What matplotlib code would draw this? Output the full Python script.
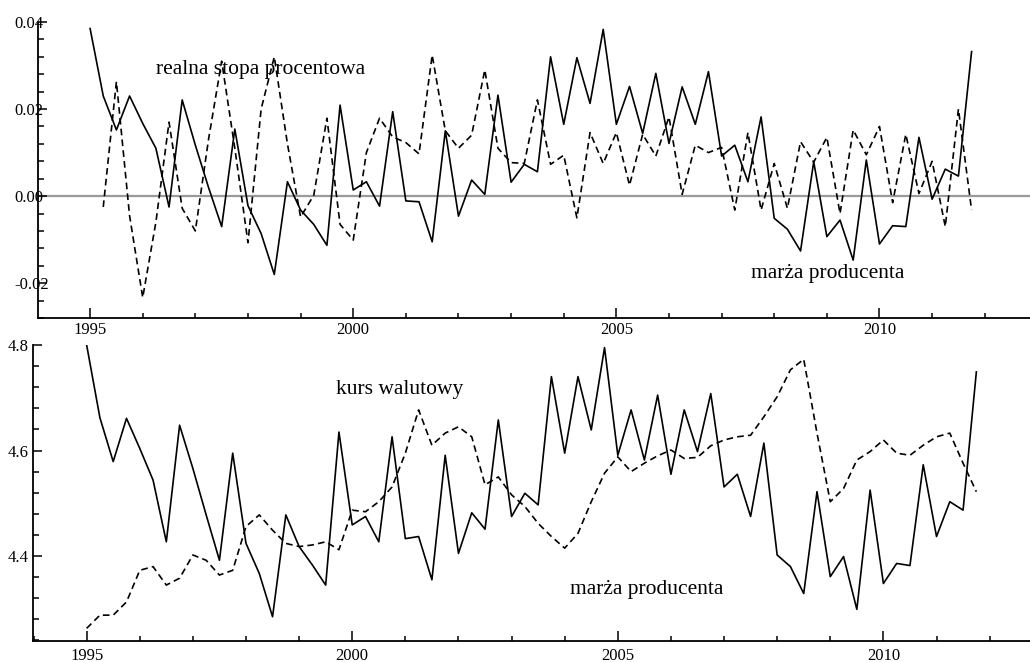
import numpy as np
import matplotlib
matplotlib.use('Agg')
import matplotlib.pyplot as plt
from matplotlib.ticker import MultipleLocator, FixedLocator, FixedFormatter

plt.rcParams['font.family'] = ['Liberation Serif', 'DejaVu Serif']

# quarterly data 1995Q1 - 2011Q4
start_year = 1995
n_quarters = 68

# top panel
marza_top = [0.0385, 0.023, 0.0152, 0.023, 0.0167, 0.011, -0.0025, 0.0221, 0.0117, 0.002,
             -0.007, 0.0154, -0.0022, -0.0086, -0.018, 0.0033, -0.0032, -0.0065, -0.0113, 0.0209,
             0.0014, 0.0033, -0.0023, 0.0194, -0.0011, -0.0013, -0.0105, 0.015, -0.0046, 0.0037,
             0.0004, 0.0232, 0.0032, 0.0073, 0.0056, 0.032, 0.0165, 0.0318, 0.0213, 0.0383,
             0.0165, 0.0252, 0.0144, 0.0282, 0.0121, 0.0251, 0.0165, 0.0286, 0.0092, 0.0117,
             0.0033, 0.0182, -0.0051, -0.0076, -0.0126, 0.0079, -0.0093, -0.0055, -0.0147, 0.0083,
             -0.011, -0.0068, -0.007, 0.0135, -0.0007, 0.0062, 0.0046, 0.0332]
stopa = [np.nan, -0.0025, 0.0263, -0.0045, -0.0233, -0.006, 0.017, -0.0028, -0.008, 0.013,
         0.031, 0.011, -0.0107, 0.020, 0.032, 0.012, -0.0048, 0.0002, 0.0179, -0.0065,
         -0.0101, 0.010, 0.0179, 0.0136, 0.0123, 0.0097, 0.0324, 0.015, 0.011, 0.014,
         0.029, 0.011, 0.0077, 0.0075, 0.0221, 0.0073, 0.0094, -0.005, 0.0146, 0.0075,
         0.0146, 0.0025, 0.0142, 0.0092, 0.0182, 0.0004, 0.0117, 0.010, 0.0112, -0.0032,
         0.0146, -0.0032, 0.0075, -0.0028, 0.0125, 0.0078, 0.0135, -0.004, 0.0152, 0.0095,
         0.016, -0.0015, 0.0142, 0.0006, 0.008, -0.007, 0.020, -0.0032]

# bottom panel
marza_bottom = [4.80, 4.662, 4.579, 4.661, 4.604, 4.544, 4.427, 4.648, 4.566, 4.478,
                4.392, 4.595, 4.424, 4.367, 4.285, 4.478, 4.418, 4.383, 4.345, 4.635,
                4.459, 4.475, 4.427, 4.626, 4.433, 4.437, 4.355, 4.591, 4.405, 4.482,
                4.451, 4.658, 4.475, 4.519, 4.497, 4.740, 4.595, 4.740, 4.639, 4.795,
                4.591, 4.677, 4.582, 4.705, 4.555, 4.677, 4.598, 4.708, 4.531, 4.555,
                4.475, 4.614, 4.402, 4.380, 4.329, 4.522, 4.361, 4.399, 4.299, 4.525,
                4.348, 4.386, 4.382, 4.573, 4.437, 4.503, 4.487, 4.749]
kurs = [4.263, 4.288, 4.288, 4.313, 4.373, 4.380, 4.345, 4.358, 4.402, 4.392,
        4.364, 4.373, 4.456, 4.478, 4.449, 4.424, 4.418, 4.421, 4.427, 4.412,
        4.487, 4.484, 4.503, 4.531, 4.595, 4.677, 4.610, 4.633, 4.645, 4.626,
        4.535, 4.550, 4.516, 4.494, 4.462, 4.437, 4.415, 4.443, 4.503, 4.557,
        4.588, 4.560, 4.576, 4.590, 4.601, 4.585, 4.587, 4.609, 4.620, 4.626,
        4.629, 4.664, 4.702, 4.753, 4.773, 4.633, 4.503, 4.528, 4.582, 4.598,
        4.620, 4.595, 4.591, 4.610, 4.626, 4.633, 4.576, 4.522]

x_major = [1995, 2000, 2005, 2010]
x_major_labels = ['1995', '2000', '2005', '2010']
top_yticks = [-0.02, 0.0, 0.02, 0.04]
top_ylabels = ['-0.02', '0.00', '0.02', '0.04']
bot_yticks = [4.4, 4.6, 4.8]
bot_ylabels = ['4.4', '4.6', '4.8']

t = start_year + np.arange(n_quarters) / 4.0

W, H = 1030, 662
fig = plt.figure(figsize=(W / 100, H / 100), dpi=100)
ax1 = fig.add_axes([38 / W, 344 / H, 992 / W, 296 / H])
ax2 = fig.add_axes([33 / W, 21 / H, 997 / W, 296 / H])

dash = (0, (4, 2.5))
for ax in (ax1, ax2):
    ax.spines['top'].set_visible(False)
    ax.spines['right'].set_visible(False)
    for s in ('left', 'bottom'):
        ax.spines[s].set_linewidth(1.3)
        ax.spines[s].set_color('black')
    ax.xaxis.set_major_locator(FixedLocator(x_major))
    ax.xaxis.set_major_formatter(FixedFormatter(x_major_labels))
    ax.xaxis.set_minor_locator(MultipleLocator(1))
    ax.tick_params(axis='x', which='major', direction='in', length=7, width=1.1,
                   pad=3.5, labelsize=12)
    ax.tick_params(axis='x', which='minor', direction='in', length=3.8, width=1.1)
    ax.tick_params(axis='y', which='major', direction='in', length=6.5, width=1.1,
                   labelsize=12)
    ax.tick_params(axis='y', which='minor', direction='in', length=4, width=1.1)

# top panel
ax1.set_xlim(1994.01, 2012.86)
ax1.set_ylim(-0.028, 0.04)
ax1.axhline(0, color='#9a9a9a', lw=1.6, zorder=1)
ax1.plot(t, stopa, color='black', lw=1.2, ls=dash, zorder=2)
ax1.plot(t, marza_top, color='black', lw=1.2, zorder=3)
ax1.yaxis.set_major_locator(FixedLocator(top_yticks))
ax1.yaxis.set_major_formatter(FixedFormatter(top_ylabels))
ax1.yaxis.set_minor_locator(MultipleLocator(0.004))
ax1.tick_params(axis='y', which='major', pad=17.3)
ax1.tick_params(axis='x', which='major', pad=3)
plt.setp(ax1.get_yticklabels(), ha='left')
ax1.text(1998.23, 0.029, 'realna stopa procentowa', fontsize=15.5,
         ha='center', va='center')
ax1.text(2009.02, -0.0177, 'marża producenta', fontsize=15.5,
         ha='center', va='center')

# bottom panel
ax2.set_xlim(1993.99, 2012.76)
ax2.set_ylim(4.239, 4.8)
ax2.plot(t, kurs, color='black', lw=1.2, ls=dash, zorder=2)
ax2.plot(t, marza_bottom, color='black', lw=1.2, zorder=3)
ax2.yaxis.set_major_locator(FixedLocator(bot_yticks))
ax2.yaxis.set_major_formatter(FixedFormatter(bot_ylabels))
ax2.yaxis.set_minor_locator(MultipleLocator(0.04))
ax2.tick_params(axis='y', which='major', pad=18)
ax2.tick_params(axis='x', which='major', pad=5)
plt.setp(ax2.get_yticklabels(), ha='left')
ax2.text(2000.90, 4.715, 'kurs walutowy', fontsize=15.5,
         ha='center', va='center')
ax2.text(2005.55, 4.336, 'marża producenta', fontsize=15.5,
         ha='center', va='center')

fig.savefig('out.png', dpi=100)
